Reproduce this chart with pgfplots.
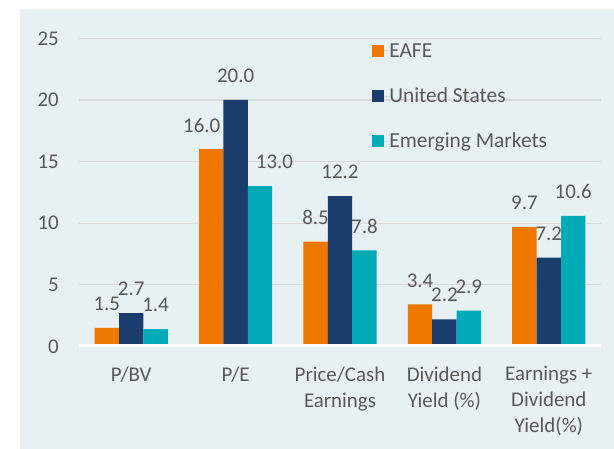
\documentclass[border=0pt]{standalone}
\usepackage{fontspec}
\setmainfont{Carlito}
\usepackage{pgfplots}
\pgfplotsset{compat=1.18}
\definecolor{eafe}{HTML}{EE7700}
\definecolor{usa}{HTML}{1A3D6D}
\definecolor{em}{HTML}{00ABB8}
\definecolor{panel}{HTML}{E7F0F3}
\definecolor{gridc}{HTML}{D9D9D9}
\definecolor{txt}{HTML}{595959}
\newcommand{\cfont}{\fontsize{21}{26}\selectfont}
\newcommand{\lfont}{\fontsize{21.5}{26}\selectfont}
\begin{document}
\begin{tikzpicture}[x=1bp,y=1bp]
\useasboundingbox (0,0) rectangle (614,449);
\fill[panel] (20,0) rectangle (614,440);
\begin{axis}[
  at={(79bp,102.6bp)}, anchor=south west,
  scale only axis, width=522bp, height=308.1bp,
  xmin=-0.5, xmax=4.5, ymin=0, ymax=25,
  ybar=0pt, bar width=24.4bp,
  xtick={0,1,2,3,4},
  xticklabels={P/BV, P/E, {Price/Cash\\Earnings}, {Dividend\\Yield (\%)}, {Earnings +\\Dividend\\Yield(\%)}},
  ytick={0,5,10,15,20,25},
  ymajorgrids, grid style={gridc, line width=1.2bp},
  axis line style={draw=none}, major tick length=0pt,
  tick label style={font=\cfont, text=txt},
  xticklabel style={align=center, anchor=north, inner sep=0pt, yshift=-20bp},
  yticklabel style={anchor=east, inner sep=0pt, xshift=-20bp},
  /pgf/number format/assume math mode=true,
  visualization depends on={value \coordindex \as \idx},
  nodes near coords, point meta=y,
  nodes near coords style={font=\cfont, text=txt, anchor=center, inner sep=0pt, yshift=24bp,
    /pgf/number format/fixed, /pgf/number format/fixed zerofill, /pgf/number format/precision=1},
  legend cell align=left,
  legend image code/.code={\fill[#1] (0bp,-6bp) rectangle (12bp,6bp); \path (0bp,0bp) -- (17.3bp,0bp);},
  legend style={at={(rel axis cs:0.5613,0.9922)}, anchor=north west, draw=none, fill=none,
    inner sep=0pt, outer sep=0pt, row sep=24.6bp, font=\lfont, text=txt,
    nodes={inner sep=0pt, text height=16.6bp, text depth=4bp}},
]
\addplot[fill=eafe, draw=none, every node near coord/.append style={xshift={(\idx==1)*(-9.5)}}]
  coordinates {(0,1.5) (1,16.0) (2,8.5) (3,3.4) (4,9.7)};
\addplot[fill=usa, draw=none]
  coordinates {(0,2.7) (1,20.0) (2,12.2) (3,2.2) (4,7.2)};
\addplot[fill=em, draw=none, every node near coord/.append style={xshift={(\idx==1)*(14.5)}}]
  coordinates {(0,1.4) (1,13.0) (2,7.8) (3,2.9) (4,10.6)};
\legend{EAFE, United States, Emerging Markets}
\draw[white, line width=4.7bp] (rel axis cs:0,0) -- (rel axis cs:1,0);
\end{axis}
\end{tikzpicture}
\end{document}
